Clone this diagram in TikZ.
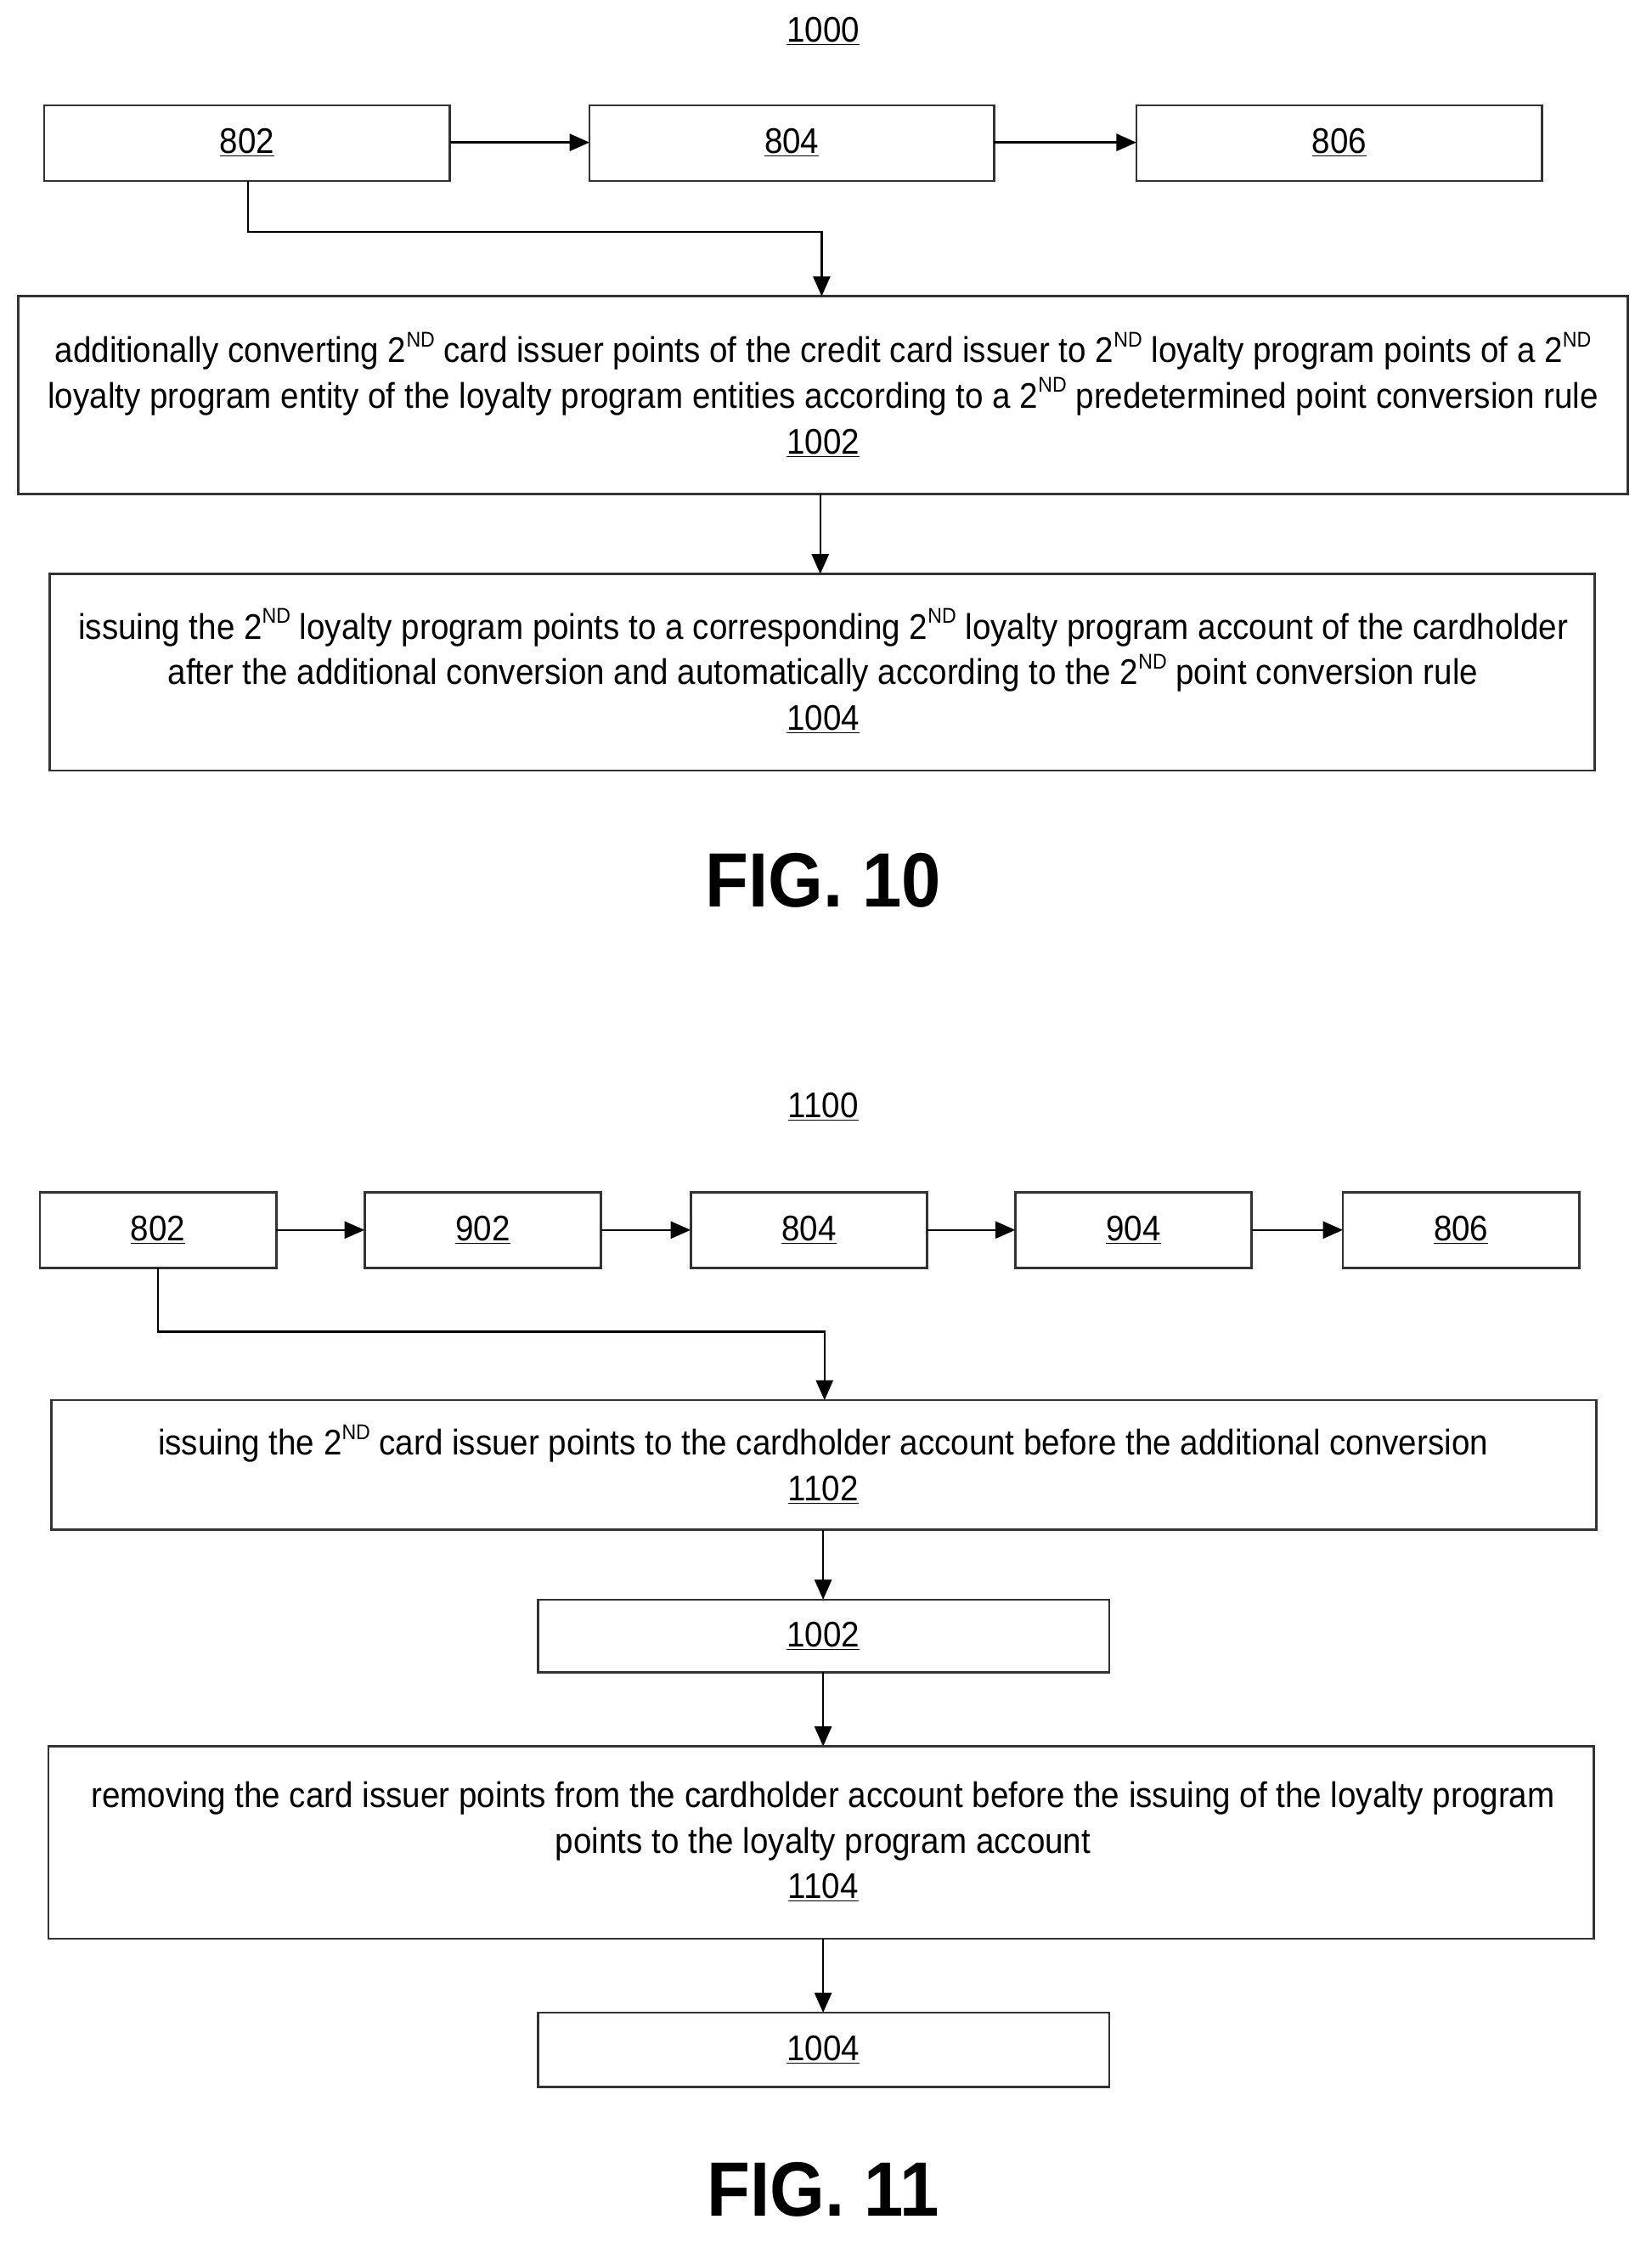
\documentclass[tikz,border=0pt]{standalone}
\usepackage{fontspec}
\setmainfont{Liberation Sans}[FakeStretch=0.92]
\usetikzlibrary{arrows.meta}
\begin{document}
\begin{tikzpicture}[x=1pt,y=-1pt,
 box/.style={draw=black!80,line width=1.6pt},
 arr/.style={line width=1.4pt,-{Triangle[length=14pt,width=12pt]}},
 lbl/.style={font=\fontsize{25}{32}\selectfont,align=center,inner sep=0},
 fig/.style={font=\fontsize{54}{54}\selectfont\bfseries,inner sep=0}]
\useasboundingbox (0,0) rectangle (1160,1574);
\newcommand{\nd}{\raisebox{0.45em}{\fontsize{15}{15}\selectfont ND}}
\node[lbl] (t1000) at (578,22) {\underline{1000}};
\draw[box] (31,74) rectangle (316,127); \node[lbl] (a802) at (173.5,100) {\underline{802}};
\draw[box] (414,74) rectangle (698,127); \node[lbl] (a804) at (556,100) {\underline{804}};
\draw[box] (798,74) rectangle (1083,127); \node[lbl] (a806) at (940.5,100) {\underline{806}};
\coordinate (a802r) at (316,100); \coordinate (a804l) at (414,100);
\coordinate (a804r) at (698,100); \coordinate (a806l) at (798,100);
\draw[arr] (a802r) -- (a804l); \draw[arr] (a804r) -- (a806l);
\draw[box] (13,208) rectangle (1143,347);
\node[lbl] (a1002) at (578,277) {additionally converting 2\nd\ card issuer points of the credit card issuer to 2\nd\ loyalty program points of a 2\nd\\loyalty program entity of the loyalty program entities according to a 2\nd\ predetermined point conversion rule\\\underline{1002}};
\coordinate (c1) at (174,127); \coordinate (c2) at (577,208);
\draw[arr] (c1) |- (577,163) -- (c2);
\coordinate (c3) at (576,347); \coordinate (c4) at (576,403);
\draw[arr] (c3) -- (c4);
\draw[box] (35,403) rectangle (1120,541);
\node[lbl] (a1004) at (578,471) {issuing the 2\nd\ loyalty program points to a corresponding 2\nd\ loyalty program account of the cardholder\\after the additional conversion and automatically according to the 2\nd\ point conversion rule\\\underline{1004}};
\node[fig] (f10) at (578,618) {FIG. 10};
\node[lbl] (t1100) at (578,777) {\underline{1100}};
\foreach \n/\xa/\xb in {b802/28/194,b902/256/422,b804/485/651,b904/713/879,b806/943/1109}{
 \draw[box] (\xa,837) rectangle (\xb,890);
 \coordinate (\n l) at (\xa,863.5); \coordinate (\n r) at (\xb,863.5);}
\node[lbl] (n1) at (111,863.5) {\underline{802}};
\node[lbl] (n2) at (339,863.5) {\underline{902}};
\node[lbl] (n3) at (568,863.5) {\underline{804}};
\node[lbl] (n4) at (796,863.5) {\underline{904}};
\node[lbl] (n5) at (1026,863.5) {\underline{806}};
\draw[arr] (b802r) -- (b902l); \draw[arr] (b902r) -- (b804l);
\draw[arr] (b804r) -- (b904l); \draw[arr] (b904r) -- (b806l);
\coordinate (d1) at (111,890); \coordinate (d2) at (579,983);
\draw[arr] (d1) |- (579,935) -- (d2);
\draw[box] (36,983) rectangle (1121,1074);
\node[lbl] (b1102) at (578,1028) {issuing the 2\nd\ card issuer points to the cardholder account before the additional conversion\\\underline{1102}};
\draw[arr] (578,1074) -- (578,1123);
\draw[box] (378,1123) rectangle (779,1174);
\node[lbl] (b1002) at (578,1148.5) {\underline{1002}};
\draw[arr] (578,1174) -- (578,1226);
\draw[box] (34,1226) rectangle (1119,1361);
\node[lbl] (b1104) at (578,1293) {removing the card issuer points from the cardholder account before the issuing of the loyalty program\\points to the loyalty program account\\\underline{1104}};
\draw[arr] (578,1361) -- (578,1413);
\draw[box] (378,1413) rectangle (779,1465);
\node[lbl] (b1004) at (578,1439) {\underline{1004}};
\node[fig] (f11) at (578,1537) {FIG. 11};
\end{tikzpicture}
\end{document}
